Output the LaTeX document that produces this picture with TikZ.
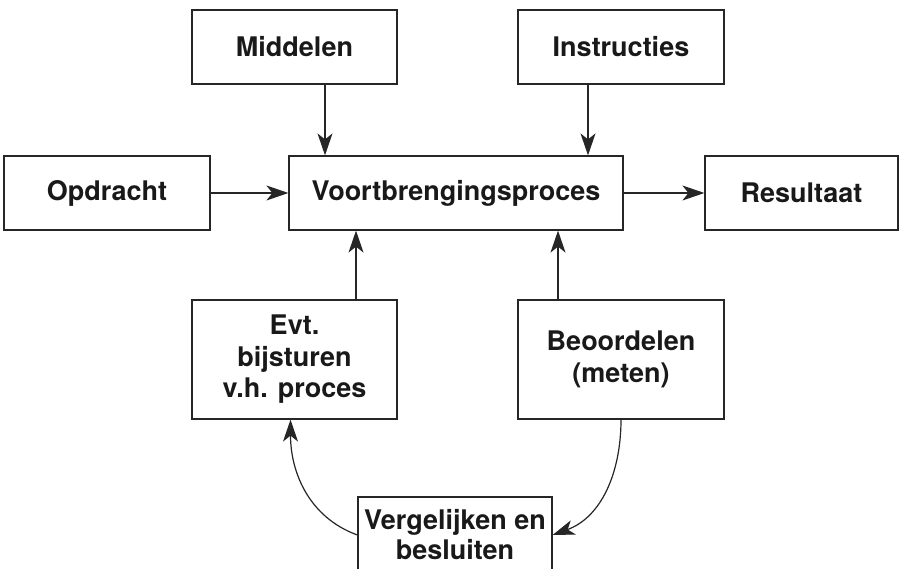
\documentclass[tikz,border=0pt]{standalone}
\usepackage{fontspec}
\setmainfont{TeX Gyre Heros}
\usepackage{tikz}
\usetikzlibrary{calc, arrows.meta}

\tikzset{
    box/.style={draw=black!85, line width=1.2pt, rectangle, align=center, inner sep=0pt,
        font=\fontsize{27}{31.5}\selectfont\bfseries, text=black!90},
    arr/.style={draw=black!85, line width=1.2pt, -{Stealth[length=22pt, width=15pt, inset=6pt]}},
}

\begin{document}
\begin{tikzpicture}[x=1pt, y=1pt]
    \useasboundingbox (0, 0) rectangle (901, 568);
    \clip (0, 0) rectangle (901, 568);

    % Top row
    \node[box, minimum width=205, minimum height=74] (mid) at (294.5, 521) {Middelen};
    \node[box, minimum width=206, minimum height=74] (instr) at (621, 521) {Instructies};

    % Middle row
    \node[box, minimum width=206, minimum height=74] (opdr) at (107, 375) {Opdracht};
    \node[box, minimum width=334, minimum height=74] (voort) at (456, 375) {Voortbrengingsproces};
    \node[box, minimum width=193, minimum height=74] (res) at (801.5, 375) {Resultaat};

    % Lower row
    \node[box, minimum width=205, minimum height=119] (evt) at (294.5, 208.5) {Evt.\\bijsturen\\v.h. proces};
    \node[box, minimum width=206, minimum height=119] (beo) at (621, 208.5) {Beoordelen\\(meten)};

    % Bottom box (runs off the page)
    \node[box, minimum width=194, minimum height=76, font=\fontsize{27}{30}\selectfont\bfseries] (verg) at (455, 33) {Vergelijken en\\besluiten};

    % Inputs
    \draw[arr] ([xshift=30.5]mid.south) -- ([xshift=30.5]mid.south |- voort.north);
    \draw[arr] ([xshift=-33]instr.south) -- ([xshift=-33]instr.south |- voort.north);
    \draw[arr] (opdr.east) -- (voort.west);
    \draw[arr] (voort.east) -- (res.west);

    % Feedback
    \draw[arr] ([xshift=61.5]evt.north) -- ([xshift=61.5]evt.north |- voort.south);
    \draw[arr] ([xshift=-63]beo.north) -- ([xshift=-63]beo.north |- voort.south);
    \draw[arr] (verg.west) to[out=160, in=-90] ([xshift=-4]evt.south);
    \draw[arr] (beo.south) to[out=-90, in=20] (verg.east);
\end{tikzpicture}
\end{document}
